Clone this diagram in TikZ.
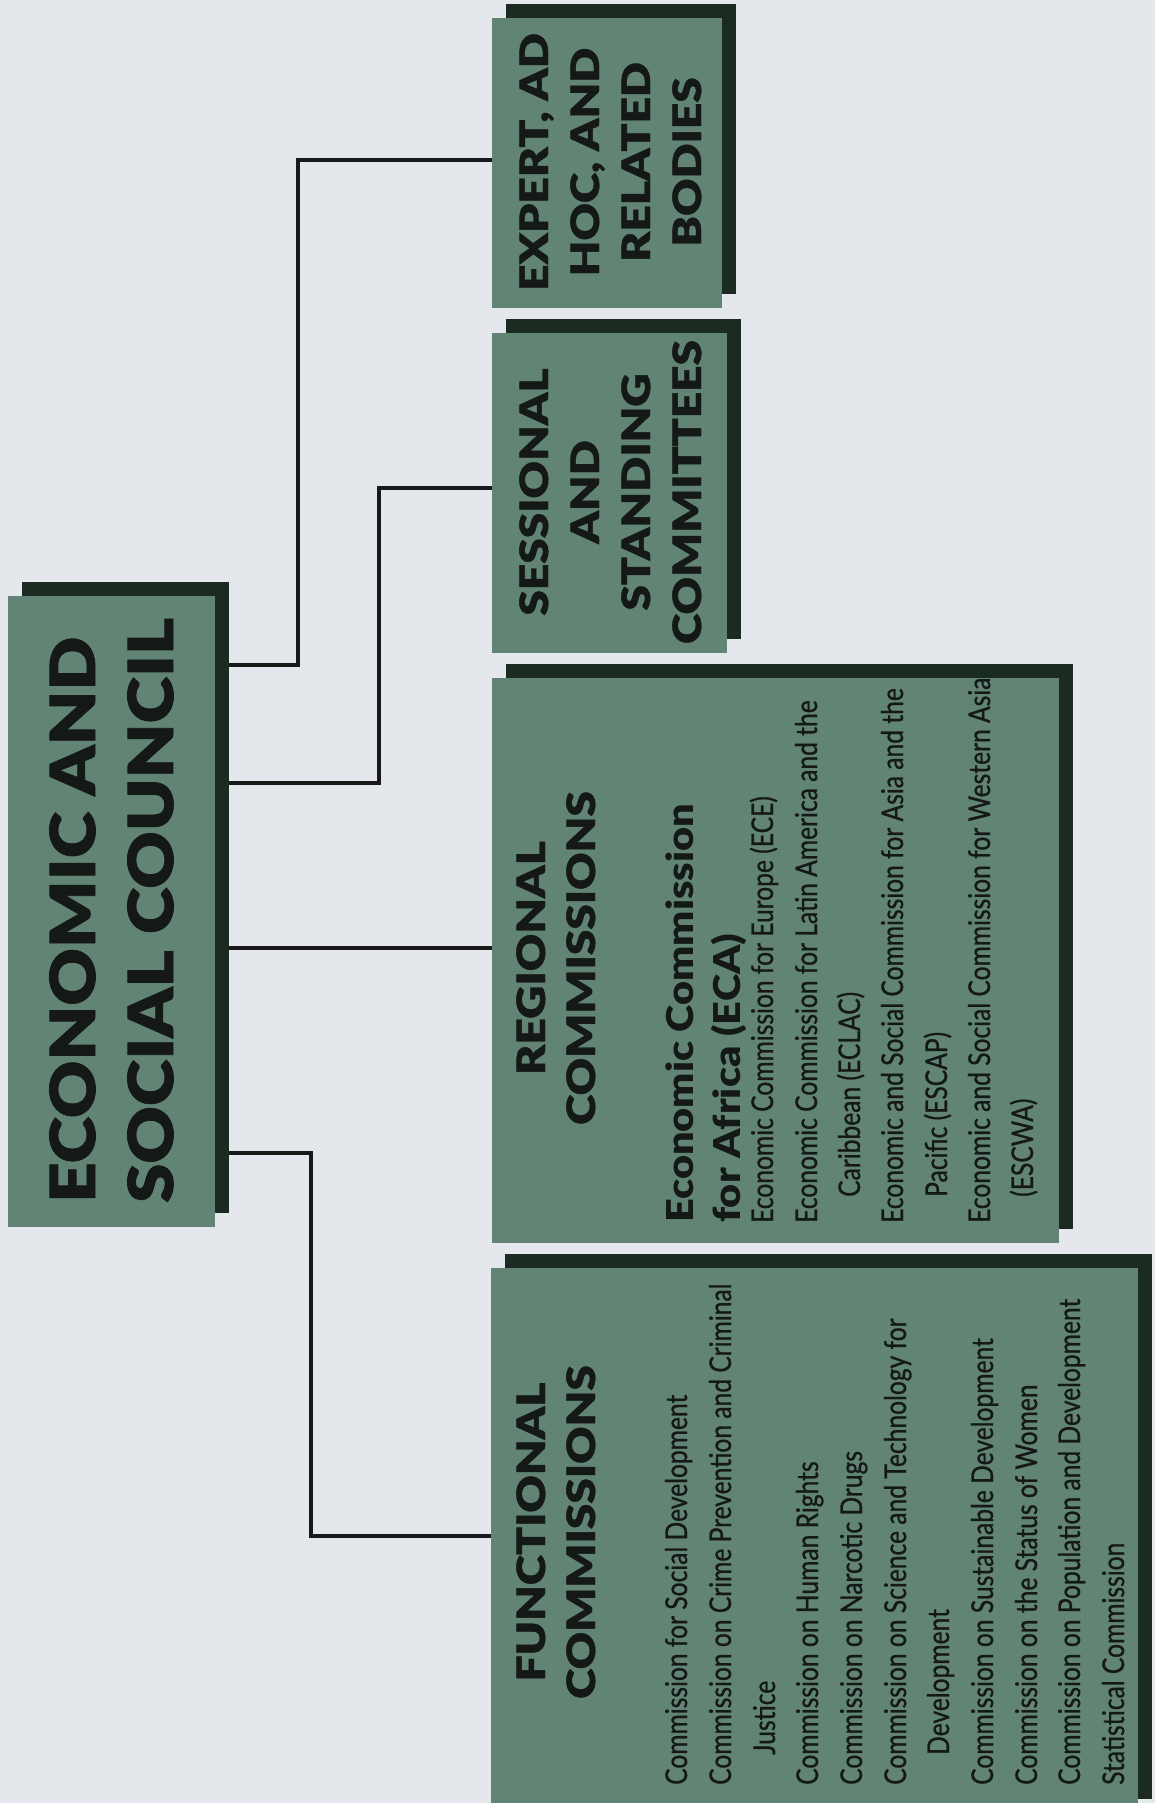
\documentclass[tikz,border=0pt]{standalone}
\usepackage{fontspec}
\setmainfont{Lato}
\IfFontExistsTF{Lato Black}{%
  \newfontfamily\bigfam{Lato Black}[FakeStretch=1.14, FakeBold=1.2]
  \newfontfamily\hdfam{Lato Black}[FakeStretch=1.18, FakeBold=1]
  \newfontfamily\subfam{Lato Black}[FakeStretch=1.12]
  \newcommand\bigf{\bigfam}\newcommand\hdf{\hdfam}\newcommand\subf{\subfam}%
}{%
  \newfontfamily\bigfam{Lato}[FakeStretch=1.2, BoldFeatures={FakeBold=3}]
  \newfontfamily\hdfam{Lato}[FakeStretch=1.25, BoldFeatures={FakeBold=3}]
  \newfontfamily\subfam{Lato}[FakeStretch=1.15, BoldFeatures={FakeBold=2}]
  \newcommand\bigf{\bigfam\bfseries}\newcommand\hdf{\hdfam\bfseries}\newcommand\subf{\subfam\bfseries}%
}
\newfontfamily\listfont{Lato}[FakeStretch=0.82, FakeBold=0.8]
\usetikzlibrary{shadows}
\definecolor{bg}{HTML}{E4E7EC}
\definecolor{boxfill}{HTML}{628474}
\definecolor{boxshadow}{HTML}{1B2B22}
\definecolor{ink}{HTML}{141816}
\tikzset{
  orgbox/.style={fill=boxfill, draw=none, inner sep=0pt,
    general shadow={fill=boxshadow, shadow xshift=14pt, shadow yshift=14pt}},
  bighead/.style={rotate=90, inner sep=0pt, text=ink, anchor=base west,
    font=\bigf\fontsize{62}{70}\selectfont},
  head/.style={rotate=90, inner sep=0pt, text=ink, anchor=base,
    font=\hdf\fontsize{39}{46}\selectfont},
  subhead/.style={rotate=90, inner sep=0pt, text=ink, anchor=base west,
    font=\subf\fontsize{37}{44}\selectfont},
  item/.style={rotate=90, inner sep=0pt, text=ink, anchor=base west,
    font=\listfont\fontsize{30}{36}\selectfont},
  link/.style={line width=4pt, draw=black!90},
}
\begin{document}
\begin{tikzpicture}[x=1pt,y=-1pt]
\fill[bg] (0,0) rectangle (1155,1803);
\useasboundingbox (0,0) rectangle (1155,1803);

% boxes
\node[orgbox, minimum width=207pt, minimum height=631pt] (eco) at (111.5,911.5) {};
\node[orgbox, minimum width=230pt, minimum height=290pt] (expert) at (607,163) {};
\node[orgbox, minimum width=235pt, minimum height=320pt] (sess) at (609.5,493) {};
\node[orgbox, minimum width=567pt, minimum height=565pt] (reg) at (775.5,960.5) {};
\node[orgbox, minimum width=647pt, minimum height=545pt] (func) at (814.5,1540.5) {};

% connectors
\coordinate (ecoR) at ([xshift=14pt]eco.east);
\draw[link] (ecoR |- 0,665) -| (298,160) -- (expert.west |- 0,160);
\draw[link] (ecoR |- 0,783) -| (379,488) -- (sess.west |- 0,488);
\draw[link] (ecoR |- 0,948) -- (reg.west |- 0,948);
\draw[link] (ecoR |- 0,1153) -| (311,1536) -- (func.west |- 0,1536);

% ECOSOC
\node[bighead] (ecoA) at (95,1203) {ECONOMIC AND};
\node[bighead] (ecoB) at (173,1203) {SOCIAL COUNCIL};

% Expert
\node[head] (ex1) at (548,162) {EXPERT, AD};
\node[head] (ex2) at (599,162) {HOC, AND};
\node[head] (ex3) at (650,162) {RELATED};
\node[head] (ex4) at (701,162) {BODIES};

% Sessional
\node[head] (se1) at (548,492) {SESSIONAL};
\node[head] (se2) at (599,492) {AND};
\node[head] (se3) at (650,492) {STANDING};
\node[head] (se4) at (701,492) {COMMITTEES};

% Regional
\node[head] (rg1) at (545,958) {REGIONAL};
\node[head] (rg2) at (595,958) {COMMISSIONS};
\node[subhead] (rgA) at (693,1223) {Economic Commission};
\node[subhead] (rgB) at (740,1223) {for Africa (ECA)};
\node[item] (r1) at (773,1223) {Economic Commission for Europe (ECE)};
\node[item] (r2) at (817,1223) {Economic Commission for Latin America and the};
\node[item] (r3) at (860,1197) {Caribbean (ECLAC)};
\node[item] (r4) at (903,1223) {Economic and Social Commission for Asia and the};
\node[item] (r5) at (947,1197) {Pacific (ESCAP)};
\node[item] (r6) at (990,1223) {Economic and Social Commission for Western Asia};
\node[item] (r7) at (1033,1197) {(ESCWA)};

% Functional
\node[head] (fu1) at (545,1532) {FUNCTIONAL};
\node[head] (fu2) at (595,1532) {COMMISSIONS};
\node[item] (f1) at (687,1785) {Commission for Social Development};
\node[item] (f2) at (731,1785) {Commission on Crime Prevention and Criminal};
\node[item] (f3) at (775,1755) {Justice};
\node[item] (f4) at (818,1785) {Commission on Human Rights};
\node[item] (f5) at (862,1785) {Commission on Narcotic Drugs};
\node[item] (f6) at (906,1785) {Commission on Science and Technology for};
\node[item] (f7) at (949,1755) {Development};
\node[item] (f8) at (993,1785) {Commission on Sustainable Development};
\node[item] (f9) at (1037,1785) {Commission on the Status of Women};
\node[item] (f10) at (1080,1785) {Commission on Population and Development};
\node[item] (f11) at (1124,1785) {Statistical Commission};
\end{tikzpicture}
\end{document}
